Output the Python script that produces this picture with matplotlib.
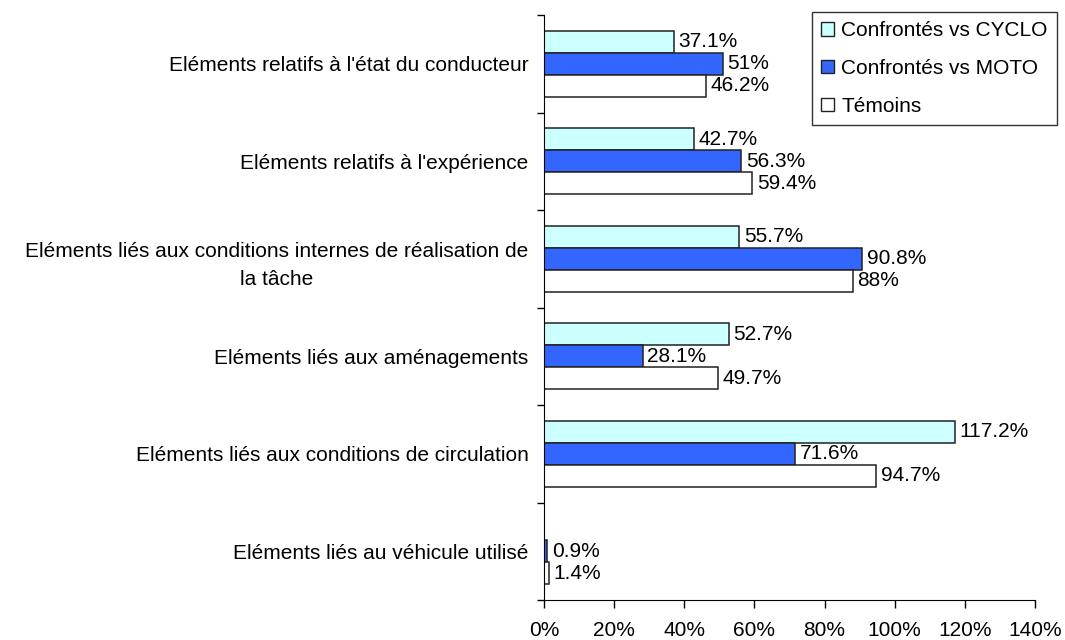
import numpy as np
import matplotlib
matplotlib.use('Agg')
import matplotlib.pyplot as plt
from matplotlib.patches import Patch

plt.rcParams['font.family'] = ['Liberation Sans', 'DejaVu Sans']

# categories from top to bottom
categories = [
    "Eléments relatifs à l'état du conducteur",
    "Eléments relatifs à l'expérience",
    "Eléments liés aux conditions internes de réalisation de\nla tâche",
    "Eléments liés aux aménagements",
    "Eléments liés aux conditions de circulation",
    "Eléments liés au véhicule utilisé",
]
series_names = ["Confrontés vs CYCLO", "Confrontés vs MOTO", "Témoins"]
cyclo = [37.1, 42.7, 55.7, 52.7, 117.2, 0]
moto = [51, 56.3, 90.8, 28.1, 71.6, 0.9]
temoins = [46.2, 59.4, 88, 49.7, 94.7, 1.4]
x_ticks = [0, 20, 40, 60, 80, 100, 120, 140]

colors = ['#CCFFFF', '#3366FF', '#FFFFFF']
fs = 15

fig = plt.figure(figsize=(10.65, 6.4), dpi=100)
ax = fig.add_axes([544 / 1065, 1 - 600 / 640, 491 / 1065, 585 / 640])

y = np.arange(len(categories))
h = 0.226
for i, vals in enumerate([cyclo, moto, temoins]):
    pos = y + (i - 1) * h
    ax.barh(pos, vals, height=h, color=colors[i], edgecolor='#222222', linewidth=1.1)
    for p, v in zip(pos, vals):
        if v > 0:
            ax.text(v + 1.3, p, f"{v:g}%", va='center', ha='left', fontsize=fs)

ax.set_xlim(0, 140)
ax.set_ylim(len(categories) - 0.5, -0.5)
ax.set_xticks(x_ticks)
ax.set_xticklabels([f"{t}%" for t in x_ticks], fontsize=fs)
ax.set_yticks(y)
ax.set_yticklabels(categories, fontsize=fs, multialignment='center', linespacing=1.6)
ax.set_yticks(np.arange(-0.5, len(categories), 1), minor=True)
ax.tick_params(axis='y', which='major', length=0, pad=11)
ax.tick_params(axis='y', which='minor', length=5, width=1, direction='out')
ax.tick_params(axis='x', length=6, width=1, direction='out', pad=9)
ax.spines['top'].set_visible(False)
ax.spines['right'].set_visible(False)

handles = [Patch(facecolor=c, edgecolor='#222222', linewidth=1) for c in colors]
leg = fig.legend(handles, series_names, loc='upper right',
                 bbox_to_anchor=(1057 / 1065, 1 - 12 / 640), fontsize=fs,
                 frameon=True, fancybox=False, handlelength=0.6, handleheight=0.6,
                 handletextpad=0.35, labelspacing=0.9, borderpad=0.45, borderaxespad=0)
leg.get_frame().set_edgecolor('black')
leg.get_frame().set_linewidth(1)

fig.savefig('out.png', dpi=100)
